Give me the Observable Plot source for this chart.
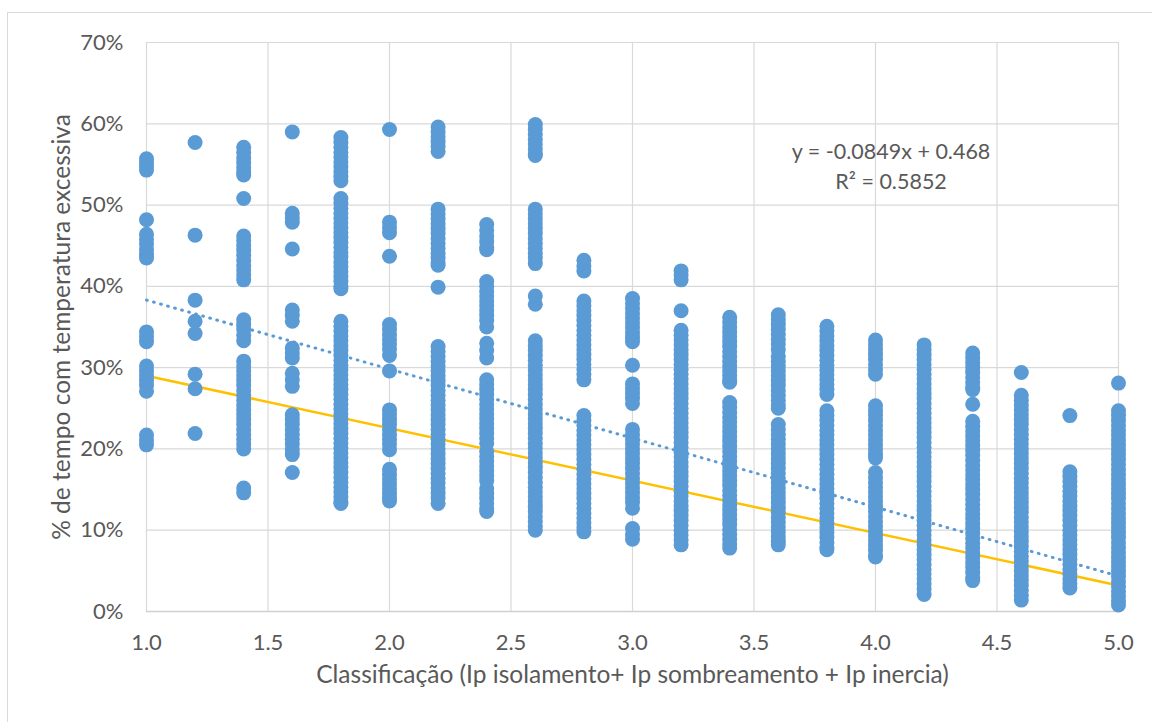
<!DOCTYPE html>
<html>
<head>
<meta charset="utf-8">
<script src="https://cdn.jsdelivr.net/npm/d3@7"></script>
<script src="https://cdn.jsdelivr.net/npm/@observablehq/plot@0.6"></script>
<style>
  html, body { margin: 0; padding: 0; background: #fff; }
  #wrap { position: relative; width: 1152px; height: 722px; overflow: hidden; background: #fff; }
  #frame { position: absolute; left: 7px; top: 12px; width: 1160px; height: 730px; border: 1.5px solid #d9d9d9; box-sizing: border-box; }
  #chart { position: absolute; left: 0; top: 0; }
</style>
</head>
<body>
<div id="wrap"><div id="frame"></div><div id="chart"></div></div>
<script>
// ---- Data (values in % of time with excessive temperature) ----
const xClasses = [1.0, 1.2, 1.4, 1.6, 1.8, 2.0, 2.2, 2.4, 2.6, 2.8, 3.0, 3.2, 3.4, 3.6, 3.8, 4.0, 4.2, 4.4, 4.6, 4.8, 5.0];

const c10 = [55.7, 55.2, 54.7, 54.3, 48.2, 46.4, 45.8, 45.2, 44.5, 43.9, 43.5, 34.4, 33.8, 33.2, 30.2, 29.6, 29.0, 28.4, 27.8, 27.1, 21.7, 21.1, 20.5];
const c12 = [57.7, 46.3, 38.3, 35.7, 34.2, 29.2, 27.4, 21.9];
const c14 = [57.1, 56.5, 55.8, 55.2, 54.6, 54.0, 53.7, 50.8, 46.2, 45.6, 45.0, 44.4, 43.8, 43.2, 42.6, 42.0, 41.4, 40.8, 35.9, 35.3, 34.7, 34.0, 33.3, 30.8, 30.2, 29.6, 29.0, 28.4, 27.8, 27.2, 26.6, 26.0, 25.4, 24.8, 24.2, 23.6, 23.0, 22.4, 21.8, 21.2, 20.6, 20.0, 15.2, 14.6];
const c16 = [59.0, 49.0, 48.4, 47.9, 44.6, 37.1, 36.4, 35.7, 32.4, 31.8, 31.2, 29.3, 28.5, 27.7, 24.2, 23.6, 23.0, 22.4, 21.8, 21.2, 20.6, 19.9, 19.3, 17.1];
const c18 = [58.3, 57.7, 57.1, 56.5, 55.9, 55.3, 54.7, 54.1, 53.5, 53.0, 50.8, 50.2, 49.6, 49.0, 48.4, 47.8, 47.2, 46.6, 46.0, 45.4, 44.8, 44.2, 43.6, 43.0, 42.4, 41.8, 41.2, 40.6, 40.0, 39.7,
  35.7, 35.1, 34.5, 33.9, 33.3, 32.7, 32.1, 31.5, 30.9, 30.3, 29.7, 29.1, 28.5, 27.9, 27.3, 26.7, 26.1, 25.5, 24.9, 24.3, 23.7, 23.1, 22.5, 21.9, 21.3, 20.7, 20.1, 19.5, 18.9, 18.3, 17.7, 17.1, 16.5, 15.9, 15.3, 14.7, 14.1, 13.5, 13.3];
const c20 = [59.3, 47.9, 47.2, 46.6, 43.7, 35.3, 34.7, 34.1, 33.5, 32.9, 32.3, 31.5, 29.6, 24.8, 24.2, 23.6, 23.0, 22.4, 21.8, 21.2, 20.6, 19.9, 17.5, 16.9, 16.3, 15.7, 15.1, 14.5, 14.0, 13.6];
const c22 = [59.6, 59.0, 58.4, 57.8, 57.2, 56.6, 49.5, 48.9, 48.3, 47.7, 47.1, 46.5, 45.9, 45.3, 44.7, 44.1, 43.5, 42.9, 42.6, 39.9,
  32.6, 32.0, 31.4, 30.8, 30.2, 29.6, 29.0, 28.4, 27.8, 27.2, 26.6, 26.0, 25.4, 24.8, 24.2, 23.6, 23.0, 22.4, 21.8, 21.2, 20.6, 20.0, 19.4, 18.8, 18.2, 17.6, 17.0, 16.4, 15.8, 15.2, 14.6, 14.0, 13.3];
const c24 = [47.6, 46.9, 46.2, 45.5, 44.8, 44.5, 40.6, 40.0, 39.4, 38.8, 38.2, 37.6, 37.0, 36.4, 35.8, 35.0, 33.0, 32.1, 31.2,
  28.5, 27.9, 27.3, 26.7, 26.1, 25.5, 24.9, 24.3, 23.7, 23.1, 22.5, 21.9, 21.3, 20.7, 19.7, 19.1, 18.5, 17.9, 17.3, 16.7, 16.1, 15.1, 14.5, 13.9, 13.3, 12.7, 12.3];
const c26 = [59.9, 59.3, 58.7, 58.1, 57.5, 56.9, 56.3, 56.1, 49.5, 48.9, 48.3, 47.7, 47.1, 46.5, 45.9, 45.3, 44.7, 44.1, 43.5, 42.8, 38.8, 37.8,
  33.3, 32.7, 32.1, 31.5, 30.9, 30.3, 29.7, 29.1, 28.5, 27.9, 27.3, 26.7, 26.1, 25.5, 24.9, 24.3, 23.7, 23.1, 22.5, 21.9, 21.3, 20.7, 20.1, 19.5, 18.9, 18.3, 17.7, 17.1, 16.5, 15.9, 15.3, 14.7, 14.1, 13.5, 12.9, 12.3, 11.7, 11.1, 10.5, 10.0];
const c28 = [43.2, 42.5, 41.9, 38.2, 37.6, 37.0, 36.4, 35.8, 35.2, 34.6, 34.0, 33.4, 32.8, 32.2, 31.6, 31.0, 30.4, 29.8, 29.2, 28.5,
  24.1, 23.5, 22.9, 22.3, 21.7, 21.1, 20.5, 19.9, 19.3, 18.7, 18.1, 17.5, 16.9, 16.3, 15.7, 15.1, 14.5, 13.9, 13.3, 12.7, 12.1, 11.5, 10.9, 10.3, 9.8];
const c30 = [38.5, 37.9, 37.3, 36.7, 36.1, 35.5, 34.9, 34.3, 33.7, 33.2, 30.3, 28.0, 27.4, 26.8, 26.2, 25.6,
  22.4, 21.8, 21.2, 20.6, 20.0, 19.4, 18.8, 18.2, 17.6, 17.0, 16.4, 15.8, 15.2, 14.6, 14.0, 13.4, 12.7, 10.2, 9.5, 8.9];
const c32 = [41.9, 41.4, 40.8, 37.0, 34.6, 34.0, 33.4, 32.8, 32.2, 31.6, 31.0, 30.4, 29.8, 29.2, 28.6, 28.0, 27.4, 26.8, 26.2, 25.6, 25.0, 24.4, 23.8, 23.2, 22.6, 22.0, 21.4, 20.8, 20.2, 19.6, 19.0, 18.4, 17.8, 17.2, 16.6, 16.0, 15.4, 14.8, 14.2, 13.6, 13.0, 12.4, 11.8, 11.2, 10.6, 10.0, 9.4, 8.8, 8.2];
const c34 = [36.2, 35.6, 35.0, 34.4, 33.8, 33.2, 32.6, 32.0, 31.4, 30.8, 30.2, 29.6, 29.0, 28.4, 28.2,
  25.7, 25.1, 24.5, 23.9, 23.3, 22.7, 22.1, 21.5, 20.9, 20.3, 19.7, 19.1, 18.5, 17.9, 17.3, 16.7, 16.1, 15.5, 14.9, 14.3, 13.7, 13.1, 12.5, 11.9, 11.3, 10.7, 10.1, 9.5, 8.9, 8.3, 7.8];
const c36 = [36.5, 35.9, 35.3, 34.7, 34.1, 33.5, 32.9, 32.2, 31.4, 30.8, 30.2, 29.6, 29.0, 28.4, 27.8, 27.2, 26.6, 26.0, 25.4, 25.0,
  23.0, 22.4, 21.8, 21.2, 20.6, 20.0, 19.4, 18.8, 18.2, 17.6, 17.0, 16.4, 15.8, 15.2, 14.6, 14.0, 13.4, 12.8, 12.2, 11.6, 11.0, 10.4, 9.8, 9.2, 8.6, 8.2];
const c38 = [35.1, 34.5, 33.9, 33.3, 32.7, 32.1, 31.5, 30.9, 30.3, 29.7, 29.1, 28.5, 27.9, 27.3, 26.7,
  24.7, 24.1, 23.5, 22.9, 22.3, 21.7, 21.1, 20.5, 19.9, 19.3, 18.7, 18.1, 17.5, 16.9, 16.3, 15.7, 15.1, 14.5, 13.9, 13.3, 12.7, 12.1, 11.5, 10.9, 10.3, 9.7, 9.1, 8.5, 7.9, 7.6];
const c40 = [33.4, 32.8, 32.2, 31.6, 31.0, 30.4, 29.8, 29.2, 25.3, 24.7, 24.1, 23.5, 22.9, 22.3, 21.7, 21.1, 20.5, 19.9, 19.3, 18.9,
  17.1, 16.5, 15.9, 15.3, 14.7, 14.1, 13.5, 12.9, 12.3, 11.7, 11.1, 10.5, 9.9, 9.3, 8.7, 8.1, 7.5, 6.9, 6.7];
const c42 = [32.8, 32.2, 31.6, 31.0, 30.4, 29.8, 29.2, 28.6, 28.0, 27.4, 26.8, 26.2, 25.6, 25.0, 24.4, 23.8, 23.2, 22.6, 22.0, 21.4, 20.8, 20.2, 19.6, 19.0, 18.4, 17.8, 17.2, 16.6, 16.0, 15.4, 14.8, 14.2, 13.6, 13.0, 12.4, 11.8, 11.2, 10.6, 10.0, 9.4, 8.8, 8.2, 7.6, 7.0, 6.4, 5.8, 5.2, 4.6, 4.0, 3.4, 2.8, 2.1];
const c44 = [31.8, 31.2, 30.6, 30.0, 29.4, 28.8, 28.2, 27.6, 27.3, 25.5,
  23.4, 22.8, 22.2, 21.6, 21.0, 20.4, 19.8, 19.2, 18.6, 18.0, 17.4, 16.8, 16.2, 15.6, 15.0, 14.4, 13.8, 13.2, 12.6, 12.0, 11.4, 10.8, 10.2, 9.6, 9.0, 8.4, 7.8, 7.2, 6.6, 6.0, 5.4, 4.8, 4.2, 3.8];
const c46 = [29.4, 26.6, 26.0, 25.4, 24.8, 24.2, 23.6, 23.0, 22.4, 21.8, 21.2, 20.6, 20.0, 19.4, 18.8, 18.2, 17.6, 17.0, 16.4, 15.8, 15.2, 14.6, 14.0, 13.4, 12.8, 12.2, 11.6, 11.0, 10.4, 9.8, 9.2, 8.6, 8.0, 7.4, 6.8, 6.2, 5.6, 5.0, 4.4, 3.8, 3.2, 2.6, 2.0, 1.4];
const c48 = [24.1, 17.2, 16.6, 16.0, 15.4, 14.8, 14.2, 13.6, 13.0, 12.4, 11.8, 11.2, 10.6, 10.0, 9.4, 8.8, 8.2, 7.6, 7.0, 6.4, 5.8, 5.2, 4.6, 4.0, 3.4, 2.9];
const c50 = [28.1, 24.7, 24.1, 23.5, 22.9, 22.3, 21.7, 21.1, 20.5, 19.9, 19.3, 18.7, 18.1, 17.5, 16.9, 16.3, 15.7, 15.1, 14.5, 13.9, 13.3, 12.7, 12.1, 11.5, 10.9, 10.3, 9.7, 9.1, 8.5, 7.9, 7.3, 6.7, 6.1, 5.5, 4.9, 4.3, 3.7, 3.1, 2.5, 1.9, 1.3, 0.8];

const columns = [c10, c12, c14, c16, c18, c20, c22, c24, c26, c28, c30, c32, c34, c36, c38, c40, c42, c44, c46, c48, c50];

// Linear trendline (from the chart's equation) and the second (gold) line
const trendSlope = -0.0849;
const trendIntercept = 0.468;
const trendX = [1.0, 5.0];
const goldX = [1.0, 5.0];
const goldY = [0.290, 0.032];

const xTicks = [1.0, 1.5, 2.0, 2.5, 3.0, 3.5, 4.0, 4.5, 5.0];
const yTicks = [0, 0.1, 0.2, 0.3, 0.4, 0.5, 0.6, 0.7];

const eqLines = ["y = -0.0849x + 0.468", "R² = 0.5852"];
const eqX = [4.064, 4.064];
const eqY = [0.565, 0.528];

const xTitle = "Classificação (Ip isolamento+ Ip sombreamento + Ip inercia)";
const yTitle = "% de tempo com temperatura excessiva";

// ---- Build tables ----
const points = columns.flatMap((vals, i) => vals.map(v => ({x: xClasses[i], y: v / 100})));
const trend = trendX.map(x => ({x, y: trendSlope * x + trendIntercept}));
const gold = goldX.map((x, i) => ({x, y: goldY[i]}));
const eq = eqLines.map((t, i) => ({t, x: eqX[i], y: eqY[i]}));

const FONT = "Lato, 'Open Sans', sans-serif";
const TXT = "#595959";

const chart = Plot.plot({
  width: 1152,
  height: 722,
  marginLeft: 146,
  marginRight: 34,
  marginTop: 42,
  marginBottom: 111,
  style: {fontFamily: FONT, background: "transparent", overflow: "visible"},
  x: {domain: [1, 5]},
  y: {domain: [0, 0.7]},
  marks: [
    Plot.gridX(xTicks, {stroke: "#d9d9d9", strokeOpacity: 1, strokeWidth: 1.2}),
    Plot.gridY(yTicks, {stroke: "#d9d9d9", strokeOpacity: 1, strokeWidth: 1.2}),
    Plot.ruleY([0], {stroke: "#d0d0d0", strokeWidth: 1.6}),
    Plot.axisX(xTicks, {tickSize: 0, tickPadding: 23, tickFormat: d3.format(".1f"), fontSize: 22, fill: TXT, label: null}),
    Plot.axisY(yTicks, {tickSize: 0, tickPadding: 23, tickFormat: d => Math.round(d * 100) + "%", fontSize: 22, fill: TXT, label: null}),
    Plot.line(gold, {x: "x", y: "y", stroke: "#FFC000", strokeWidth: 2.5}),
    Plot.line(trend, {x: "x", y: "y", stroke: "#5B9BD5", strokeWidth: 3, strokeDasharray: "0.8 6.5", strokeLinecap: "round"}),
    Plot.dot(points, {x: "x", y: "y", r: 7.5, fill: "#5B9BD5", stroke: "none"}),
    Plot.text(eq, {x: "x", y: "y", text: "t", fontSize: 21.5, fill: TXT, textAnchor: "middle"}),
    Plot.text([xTitle], {frameAnchor: "bottom", dy: 71, fontSize: 24.5, fill: TXT, textAnchor: "middle"}),
    Plot.text([yTitle], {frameAnchor: "left", dx: -84, rotate: -90, fontSize: 24.5, fill: TXT, textAnchor: "middle"})
  ]
});
document.getElementById("chart").appendChild(chart);
</script>
</body>
</html>
